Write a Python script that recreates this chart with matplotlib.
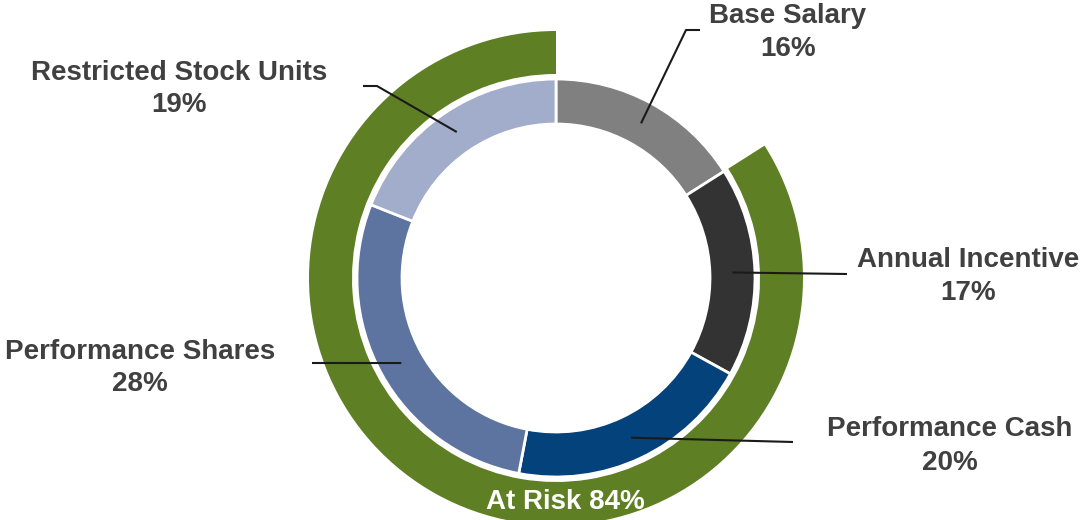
import numpy as np
import matplotlib
matplotlib.use("Agg")
import matplotlib.pyplot as plt

# Pay mix data
categories = ["Base Salary", "Annual Incentive", "Performance Cash",
              "Performance Shares", "Restricted Stock Units"]
shares = [16, 17, 20, 28, 19]
colors = ["#808080", "#333333", "#03427A", "#5D74A1", "#A1ADCA"]

at_risk_label = "At Risk"
at_risk_value = 84
fixed_value = 100 - at_risk_value
green = "#5E7F24"
text_color = "#404040"

plt.rcParams["font.family"] = ["Liberation Sans", "DejaVu Sans"]

W, H = 1084, 520
fig = plt.figure(figsize=(W / 100, H / 100), dpi=100)
ax = fig.add_axes([0, 0, 1, 1])

# Work in pixel-sized units with the ring centre at the origin
cx, cy = 556, 278
r_in_outer, r_in_inner = 199, 154
r_out_outer, r_out_inner = 247, 204

wedges, _ = ax.pie(shares, colors=colors, radius=r_in_outer, startangle=90,
                   counterclock=False,
                   wedgeprops=dict(width=r_in_outer - r_in_inner,
                                   edgecolor="white", linewidth=2.0))

outer, _ = ax.pie([fixed_value, at_risk_value], colors=["none", green],
                  radius=r_out_outer, startangle=90, counterclock=False,
                  wedgeprops=dict(width=r_out_outer - r_out_inner,
                                  linewidth=0))

ax.set_xlim(-cx, W - cx)
ax.set_ylim(cy - H, cy)
ax.set_aspect("auto")
ax.axis("off")


def P(x, y):
    """Image-style position (origin top-left) to axes units."""
    return x - cx, cy - y


# Label centre x and text baselines, plus leader-line elbows
label_pos = {
    "Base Salary": (788, 23, 56),
    "Annual Incentive": (968, 267, 300),
    "Performance Cash": (950, 436, 470),
    "Performance Shares": (140, 359, 391),
    "Restricted Stock Units": (179, 80, 112),
}
leader_path = {
    "Base Salary": [(686, 30), (700, 30)],
    "Annual Incentive": [(847, 274)],
    "Performance Cash": [(793, 442)],
    "Performance Shares": [(312, 363)],
    "Restricted Stock Units": [(377, 86), (363, 86)],
}

fs = 20
r_mid = (r_in_outer + r_in_inner) / 2
cum = np.cumsum([0] + shares)
for i, name in enumerate(categories):
    frac = (cum[i] + shares[i] / 2) / cum[-1]
    theta = 2 * np.pi * frac
    sx, sy = r_mid * np.sin(theta), r_mid * np.cos(theta)
    pts = [(sx, sy)] + [P(*p) for p in leader_path[name]]
    xs, ys = zip(*pts)
    ax.plot(xs, ys, color="#1a1a1a", lw=1.5, solid_capstyle="butt", zorder=5)

    lx, ly1, ly2 = label_pos[name]
    ax.text(*P(lx, ly1), name, ha="center", va="baseline", fontsize=fs,
            fontweight="bold", color=text_color, zorder=6)
    ax.text(*P(lx, ly2), f"{shares[i]}%", ha="center", va="baseline",
            fontsize=fs, fontweight="bold", color=text_color, zorder=6)

ax.text(*P(565, 509), f"{at_risk_label} {at_risk_value}%", ha="center",
        va="baseline", fontsize=fs, fontweight="bold", color="white", zorder=6)

fig.savefig("out.png", dpi=100, facecolor="white")
